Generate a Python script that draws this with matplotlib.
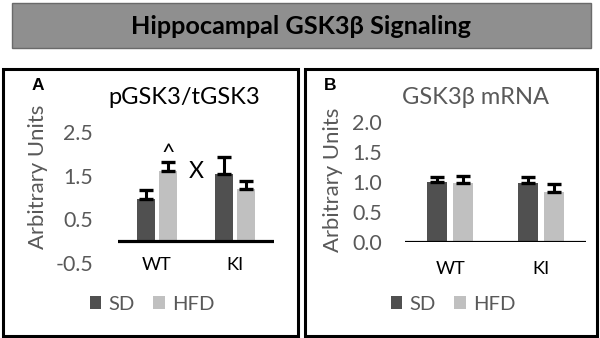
import numpy as np
import matplotlib
matplotlib.use("Agg")
import matplotlib.pyplot as plt
from matplotlib.patches import Rectangle

plt.rcParams["font.family"] = ["Lato", "Noto Sans", "DejaVu Sans"]

groups = ["WT", "KI"]
diets = ["SD", "HFD"]
colors = ["#505050", "#c0c0c0"]

# panel A: pGSK3/tGSK3
pgsk_sd = [0.96, 1.54]
pgsk_sd_err = [0.21, 0.39]
pgsk_hfd = [1.61, 1.19]
pgsk_hfd_err = [0.21, 0.18]

# panel B: GSK3b mRNA
mrna_sd = [1.00, 0.97]
mrna_sd_err = [0.08, 0.11]
mrna_hfd = [0.97, 0.83]
mrna_hfd_err = [0.13, 0.13]

W, H = 600, 338
GRAY = "#595959"

fig = plt.figure(figsize=(W / 100, H / 100), dpi=100)
fig.canvas.draw()
rend = fig.canvas.get_renderer()


def size_for(s, target_px, **kw):
    # font size that makes string s about target_px wide
    t = fig.text(0, 0, s, fontsize=10, **kw)
    w = t.get_window_extent(rend).width
    t.remove()
    return 10 * target_px / w


fs_tick = size_for("2.5", 30)
fs_cat = size_for("WT", 30)
fs_ylab = size_for("Arbitrary Units", 145)
fs_title = size_for("pGSK3/tGSK3", 151)
fs_leg = size_for("HFD", 42)
fs_banner = size_for("Hippocampal GSK3β Signaling", 340, fontweight="bold")
fs_x = size_for("X", 15)


def box(x0, y0, x1, y1):
    return [x0 / W, 1 - y1 / H, (x1 - x0) / W, (y1 - y0) / H]


def panel(rect, sd, sd_err, hfd, hfd_err, ylim, yticks, off, width, xpad, ypad):
    ax = fig.add_axes(rect)
    x = np.arange(len(groups))
    b1 = ax.bar(x - off, sd, width, color=colors[0], label=diets[0], zorder=2)
    b2 = ax.bar(x + off, hfd, width, color=colors[1], label=diets[1], zorder=2)
    ax.errorbar(x - off, sd, yerr=[np.zeros(2), sd_err], fmt="none", ecolor="black",
                elinewidth=2.2, capsize=5, capthick=2.4, zorder=3)
    ax.errorbar(x + off, hfd, yerr=[np.zeros(2), hfd_err], fmt="none", ecolor="black",
                elinewidth=2.2, capsize=5, capthick=2.4, zorder=3)
    ax.axhline(0, color="black", lw=2.3, zorder=4)
    ax.set_xlim(-0.5, 1.5)
    ax.set_ylim(*ylim)
    ax.set_yticks(yticks)
    ax.set_yticklabels(["{:.1f}".format(v) for v in yticks])
    ax.set_xticks(x)
    ax.set_xticklabels(groups)
    for s in ax.spines.values():
        s.set_visible(False)
    ax.tick_params(axis="y", length=0, pad=ypad, labelsize=fs_tick, labelcolor=GRAY)
    ax.tick_params(axis="x", length=0, pad=xpad, labelsize=fs_cat, labelcolor="black")
    ax.patch.set_alpha(0)
    return ax, (b1, b2)


ax_a, hands_a = panel(box(118, 132, 274, 263), pgsk_sd, pgsk_sd_err, pgsk_hfd, pgsk_hfd_err,
                      (-0.5, 2.5), [-0.5, 0.5, 1.5, 2.5], 0.14, 0.235, -4, 18)
ax_b, hands_b = panel(box(405, 121.5, 586, 241.5), mrna_sd, mrna_sd_err, mrna_hfd, mrna_hfd_err,
                      (0, 2), [0, 0.5, 1.0, 1.5, 2.0], 0.144, 0.22, 14, 16.5)

# significance marks
ax_a.annotate("^", (0 + 0.14, pgsk_hfd[0] + pgsk_hfd_err[0]), xytext=(0, -2),
              textcoords="offset points", ha="center", va="bottom", fontsize=fs_x,
              color="black")
ax_a.text(0.5, 1.6, "X", ha="center", va="center", fontsize=fs_x, color="black")

# legends
sq = 11.5 / (fs_leg * 100 / 72)
for ax, hands, cx in [(ax_a, hands_a, 152), (ax_b, hands_b, 453)]:
    ax.legend(hands, diets, loc="center", bbox_to_anchor=(cx / W, 1 - 304 / H),
              bbox_transform=fig.transFigure, ncol=2, frameon=False, fontsize=fs_leg,
              labelcolor=GRAY, handlelength=sq, handleheight=sq, handletextpad=0.35,
              columnspacing=0.9, borderpad=0)

# y labels and titles
fig.text(38 / W, 1 - 177 / H, "Arbitrary Units", rotation=90, ha="center", va="center",
         fontsize=fs_ylab, color=GRAY)
fig.text(333 / W, 1 - 180 / H, "Arbitrary Units", rotation=90, ha="center", va="center",
         fontsize=fs_ylab, color=GRAY)
fig.text(184 / W, 1 - 97 / H, "pGSK3/tGSK3", ha="center", va="center", fontsize=fs_title,
         color="black")
fig.text(475 / W, 1 - 97 / H, "GSK3β mRNA", ha="center", va="center", fontsize=fs_title,
         color=GRAY)
fig.text(38 / W, 1 - 86 / H, "A", ha="center", va="center", fontsize=12.5, fontweight="bold",
         family="Liberation Sans")
fig.text(330 / W, 1 - 86 / H, "B", ha="center", va="center", fontsize=12.5, fontweight="bold",
         family="Liberation Sans")

# panel frames
for x0, x1 in [(3, 298), (305, 597)]:
    fig.add_artist(Rectangle((x0 / W, 1 - 336 / H), (x1 - x0) / W, (336 - 69) / H,
                             transform=fig.transFigure, fill=False, ec="black", lw=2.2))

# title banner
fig.add_artist(Rectangle((12 / W, 1 - 48 / H), (591 - 12) / W, 45 / H, transform=fig.transFigure,
                         fc="#8f8f8f", ec="#6a6a6a", lw=1))
fig.text(301 / W, 1 - 26 / H, "Hippocampal GSK3β Signaling", ha="center", va="center",
         fontsize=fs_banner, fontweight="bold", color="black")

fig.savefig("out.png", dpi=100)
